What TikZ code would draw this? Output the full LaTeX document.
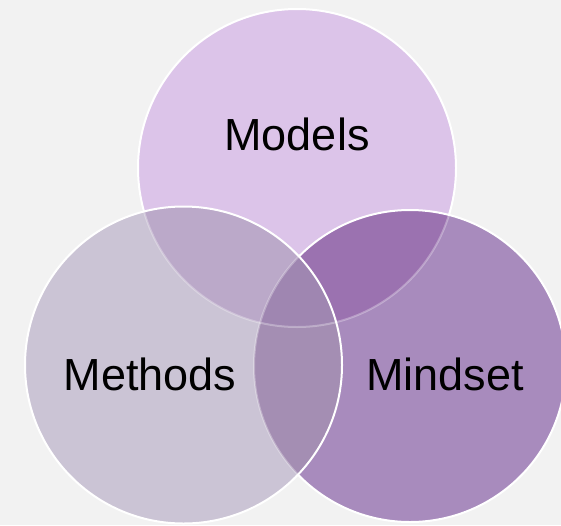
\documentclass[tikz,border=0pt]{standalone}
\usepackage{fontspec}
\setmainfont{Liberation Sans}
\definecolor{bgc}{HTML}{F2F2F2}
\definecolor{topc}{HTML}{DCC4E9}
\definecolor{rightc}{HTML}{A88BBD}
\definecolor{trc}{HTML}{9B72B0}
\definecolor{leftc}{HTML}{CBC4D5}
\definecolor{tlc}{HTML}{BBA9C9}
\definecolor{lrc}{HTML}{A48EB3}
\definecolor{ctrc}{HTML}{9F86B1}
\tikzset{
  outline/.style={draw=white, line width=2pt},
  faint/.style={draw=white, draw opacity=0.3, line width=2pt},
  label/.style={anchor=base, font=\fontsize{45}{54}\selectfont, text=black, inner sep=0pt}
}
\begin{document}
\begin{tikzpicture}[x=1pt,y=-1pt]
\def\TopC{(297,168) circle[radius=159]}
\def\LeftC{(183.5,365) circle[radius=158.5]}
\def\RightC{(410,366) circle[radius=156]}
\fill[bgc] (0,0) rectangle (561,525);
\useasboundingbox (0,0) rectangle (561,525);
% top circle
\fill[topc] \TopC;
\draw[outline] \TopC;
% right circle
\fill[rightc] \RightC;
\begin{scope}
  \clip \TopC;
  \fill[trc] \RightC;
\end{scope}
\begin{scope}
  \clip \RightC;
  \draw[faint] \TopC;
\end{scope}
\draw[outline] \RightC;
% left circle
\fill[leftc] \LeftC;
\begin{scope}
  \clip \TopC;
  \fill[tlc] \LeftC;
\end{scope}
\begin{scope}
  \clip \RightC;
  \fill[lrc] \LeftC;
  \clip \TopC;
  \fill[ctrc] \LeftC;
\end{scope}
\begin{scope}
  \clip \LeftC;
  \draw[faint] \TopC;
  \draw[faint] \RightC;
\end{scope}
\draw[outline] \LeftC;
% labels
\node[label] (models) at (297,150) {Models};
\node[label] (methods) at (150,390) {Methods};
\node[label] (mindset) at (445,390) {Mindset};
\end{tikzpicture}
\end{document}
